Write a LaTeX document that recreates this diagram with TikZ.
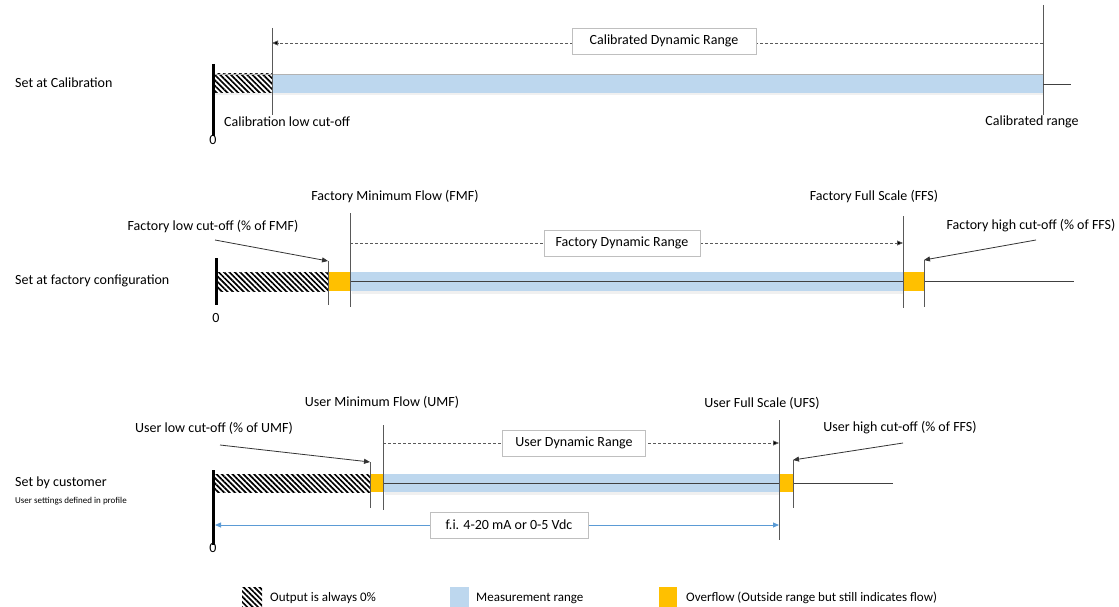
\documentclass[tikz,border=0pt]{standalone}
\usepackage{fontspec}
\setmainfont{Carlito}
\usetikzlibrary{patterns.meta,arrows.meta}
\definecolor{mblue}{HTML}{BDD7EE}
\definecolor{morange}{HTML}{FFC000}
\definecolor{ablue}{HTML}{5B9BD5}
\definecolor{lgray}{HTML}{BFBFBF}
\begin{document}
\begin{tikzpicture}[x=1pt,y=-1pt,
  lbl/.style={font=\fontsize{14}{16}\selectfont, inner sep=0pt},
  leg/.style={font=\fontsize{13}{15}\selectfont, inner sep=0pt, anchor=west},
  hatchbar/.style={pattern={Lines[angle=-45,distance=3.8pt,line width=1.7pt]}, pattern color=black},
  bluebar/.style={fill=mblue},
  orangebar/.style={fill=morange},
  shadowbar/.style={fill=black!6},
  tick/.style={draw=black!65, line width=0.8pt},
  zeroline/.style={draw=black, line width=3pt},
  midline/.style={draw=black!75, line width=0.8pt},
  rangebox/.style={draw=lgray, fill=white, line width=0.8pt, font=\fontsize{14}{16}\selectfont, minimum height=26pt, inner sep=0pt},
  dasharrow/.style={draw=black!65, dashed, dash pattern=on 3pt off 2pt, line width=0.7pt, -{Triangle[length=6pt,width=5pt,fill=black]}},
  ptr/.style={draw=black!80, line width=0.8pt, -{Triangle[length=6pt,width=5pt]}},
  bluearrow/.style={draw=ablue, line width=0.8pt, {Triangle[length=6pt,width=5pt]}-{Triangle[length=6pt,width=5pt]}}
]
\useasboundingbox (0,0) rectangle (1119,607);

% ---------------- Row 1: calibration
\node[lbl, anchor=west] (r1) at (15,83) {Set at Calibration};
\fill[shadowbar] (215,93) rectangle (1043,95.5);
\fill[hatchbar] (213,74) rectangle (272,93);
\fill[bluebar] (272,74) rectangle (1043,93);
\draw[black!30, line width=0.6pt] (213,74) -- (1043,74);
\coordinate (c1a) at (272,28);
\coordinate (c1ab) at (272,115);
\coordinate (c1b) at (1043,5);
\coordinate (c1bb) at (1043,115);
\coordinate (c1e) at (1071,84);
\coordinate (c1m) at (1043,84);
\draw[tick] (c1a) -- (c1ab);
\draw[tick] (c1b) -- (c1bb);
\draw[midline] (c1m) -- (c1e);
\coordinate (z1t) at (213,64);
\coordinate (z1b) at (213,136);
\draw[zeroline] (z1t) -- (z1b);
\coordinate (d1r) at (1043,43);
\coordinate (d1l) at (272,43);
\draw[dasharrow] (d1r) -- (d1l);
\node[rangebox, minimum width=184pt] (cdr) at (664,41) {Calibrated Dynamic Range};
\node[lbl, anchor=west] (clc) at (224,122) {Calibration low cut-off};
\node[lbl] (z1) at (213,140) {0};
\node[lbl] (cr) at (1032,122) {Calibrated range};

% ---------------- Row 2: factory
\node[lbl, anchor=west] (r2) at (15,281) {Set at factory configuration};
\fill[shadowbar] (352,291) rectangle (903,293.5);
\fill[hatchbar] (216,272) rectangle (328,291);
\fill[bluebar] (350,272) rectangle (903,291);
\draw[midline] (350,281) -- (1074,281);
\fill[orangebar] (328,272) rectangle (350,291);
\fill[orangebar] (903,272) rectangle (924,291);
\coordinate (f1t) at (328,261);
\coordinate (f1b) at (328,305);
\coordinate (f2t) at (350,213);
\coordinate (f2b) at (350,307);
\coordinate (f3t) at (903,216);
\coordinate (f3b) at (903,308);
\coordinate (f4t) at (924,260);
\coordinate (f4b) at (924,307);
\draw[tick] (f1t) -- (f1b);
\draw[tick] (f2t) -- (f2b);
\draw[tick] (f3t) -- (f3b);
\draw[tick] (f4t) -- (f4b);
\coordinate (z2t) at (216,258);
\coordinate (z2b) at (216,305);
\draw[zeroline] (z2t) -- (z2b);
\coordinate (d2l) at (350,243);
\coordinate (d2r) at (903,243);
\draw[dasharrow] (d2l) -- (d2r);
\node[rangebox, minimum width=156pt] (fdr) at (622,243) {Factory Dynamic Range};
\node[lbl] (fmf) at (395,197) {Factory Minimum Flow (FMF)};
\node[lbl] (ffs) at (874,197) {Factory Full Scale (FFS)};
\node[lbl] (flc) at (213,227) {Factory low cut-off (\% of FMF)};
\node[lbl] (fhc) at (1031,226) {Factory high cut-off (\% of FFS)};
\coordinate (flcA) at (215,240);
\coordinate (fhcA) at (1036,240);
\draw[ptr] (flcA) -- (f1t);
\draw[ptr] (fhcA) -- (f4t);
\node[lbl] (z2) at (216,318) {0};

% ---------------- Row 3: customer
\node[lbl, anchor=west] (r3) at (15,483) {Set by customer};
\node[inner sep=0pt, anchor=west, font=\fontsize{9}{11}\selectfont] (r3s) at (15,501) {User settings defined in profile};
\fill[shadowbar] (385,492) rectangle (779,494.5);
\fill[hatchbar] (213,474) rectangle (370,492);
\fill[bluebar] (383,474) rectangle (779,492);
\draw[midline] (383,483) -- (893,483);
\fill[orangebar] (370,474) rectangle (383,492);
\fill[orangebar] (779,474) rectangle (793,492);
\coordinate (u1t) at (370,462);
\coordinate (u1b) at (370,508);
\coordinate (u2t) at (383,425);
\coordinate (u2b) at (383,510);
\coordinate (u3t) at (779,420);
\coordinate (u3b) at (779,540);
\coordinate (u4t) at (793,460);
\coordinate (u4b) at (793,508);
\draw[tick] (u1t) -- (u1b);
\draw[tick] (u2t) -- (u2b);
\draw[tick] (u3t) -- (u3b);
\draw[tick] (u4t) -- (u4b);
\coordinate (z3t) at (213,470);
\coordinate (z3b) at (213,545);
\draw[zeroline] (z3t) -- (z3b);
\coordinate (d3l) at (383,443);
\coordinate (d3r) at (779,443);
\draw[dasharrow] (d3l) -- (d3r);
\node[rangebox, minimum width=143pt] (udr) at (574,443) {User Dynamic Range};
\node[lbl] (umf) at (382,402) {User Minimum Flow (UMF)};
\node[lbl] (ufs) at (762,403) {User Full Scale (UFS)};
\node[lbl] (ulc) at (214,428) {User low cut-off (\% of UMF)};
\node[lbl] (uhc) at (900,428) {User high cut-off (\% of FFS)};
\coordinate (ulcA) at (220,445);
\coordinate (uhcA) at (903,443);
\draw[ptr] (ulcA) -- (u1t);
\draw[ptr] (uhcA) -- (u4t);
\coordinate (b3l) at (215,525);
\coordinate (b3r) at (779,525);
\draw[bluearrow] (b3l) -- (b3r);
\node[rangebox, minimum width=158pt] (sig) at (509,525) {f.i. 4-20 mA or 0-5 Vdc};
\node[lbl] (z3) at (213,548) {0};

% ---------------- Legend
\fill[hatchbar] (242,587) rectangle (262,607);
\node[leg] (l1) at (270,598) {Output is always 0\%};
\fill[bluebar] (450,587) rectangle (469,607);
\node[leg] (l2) at (476,598) {Measurement range};
\fill[orangebar] (659,587) rectangle (677,607);
\node[leg] (l3) at (686,598) {Overflow (Outside range but still indicates flow)};
\end{tikzpicture}
\end{document}
